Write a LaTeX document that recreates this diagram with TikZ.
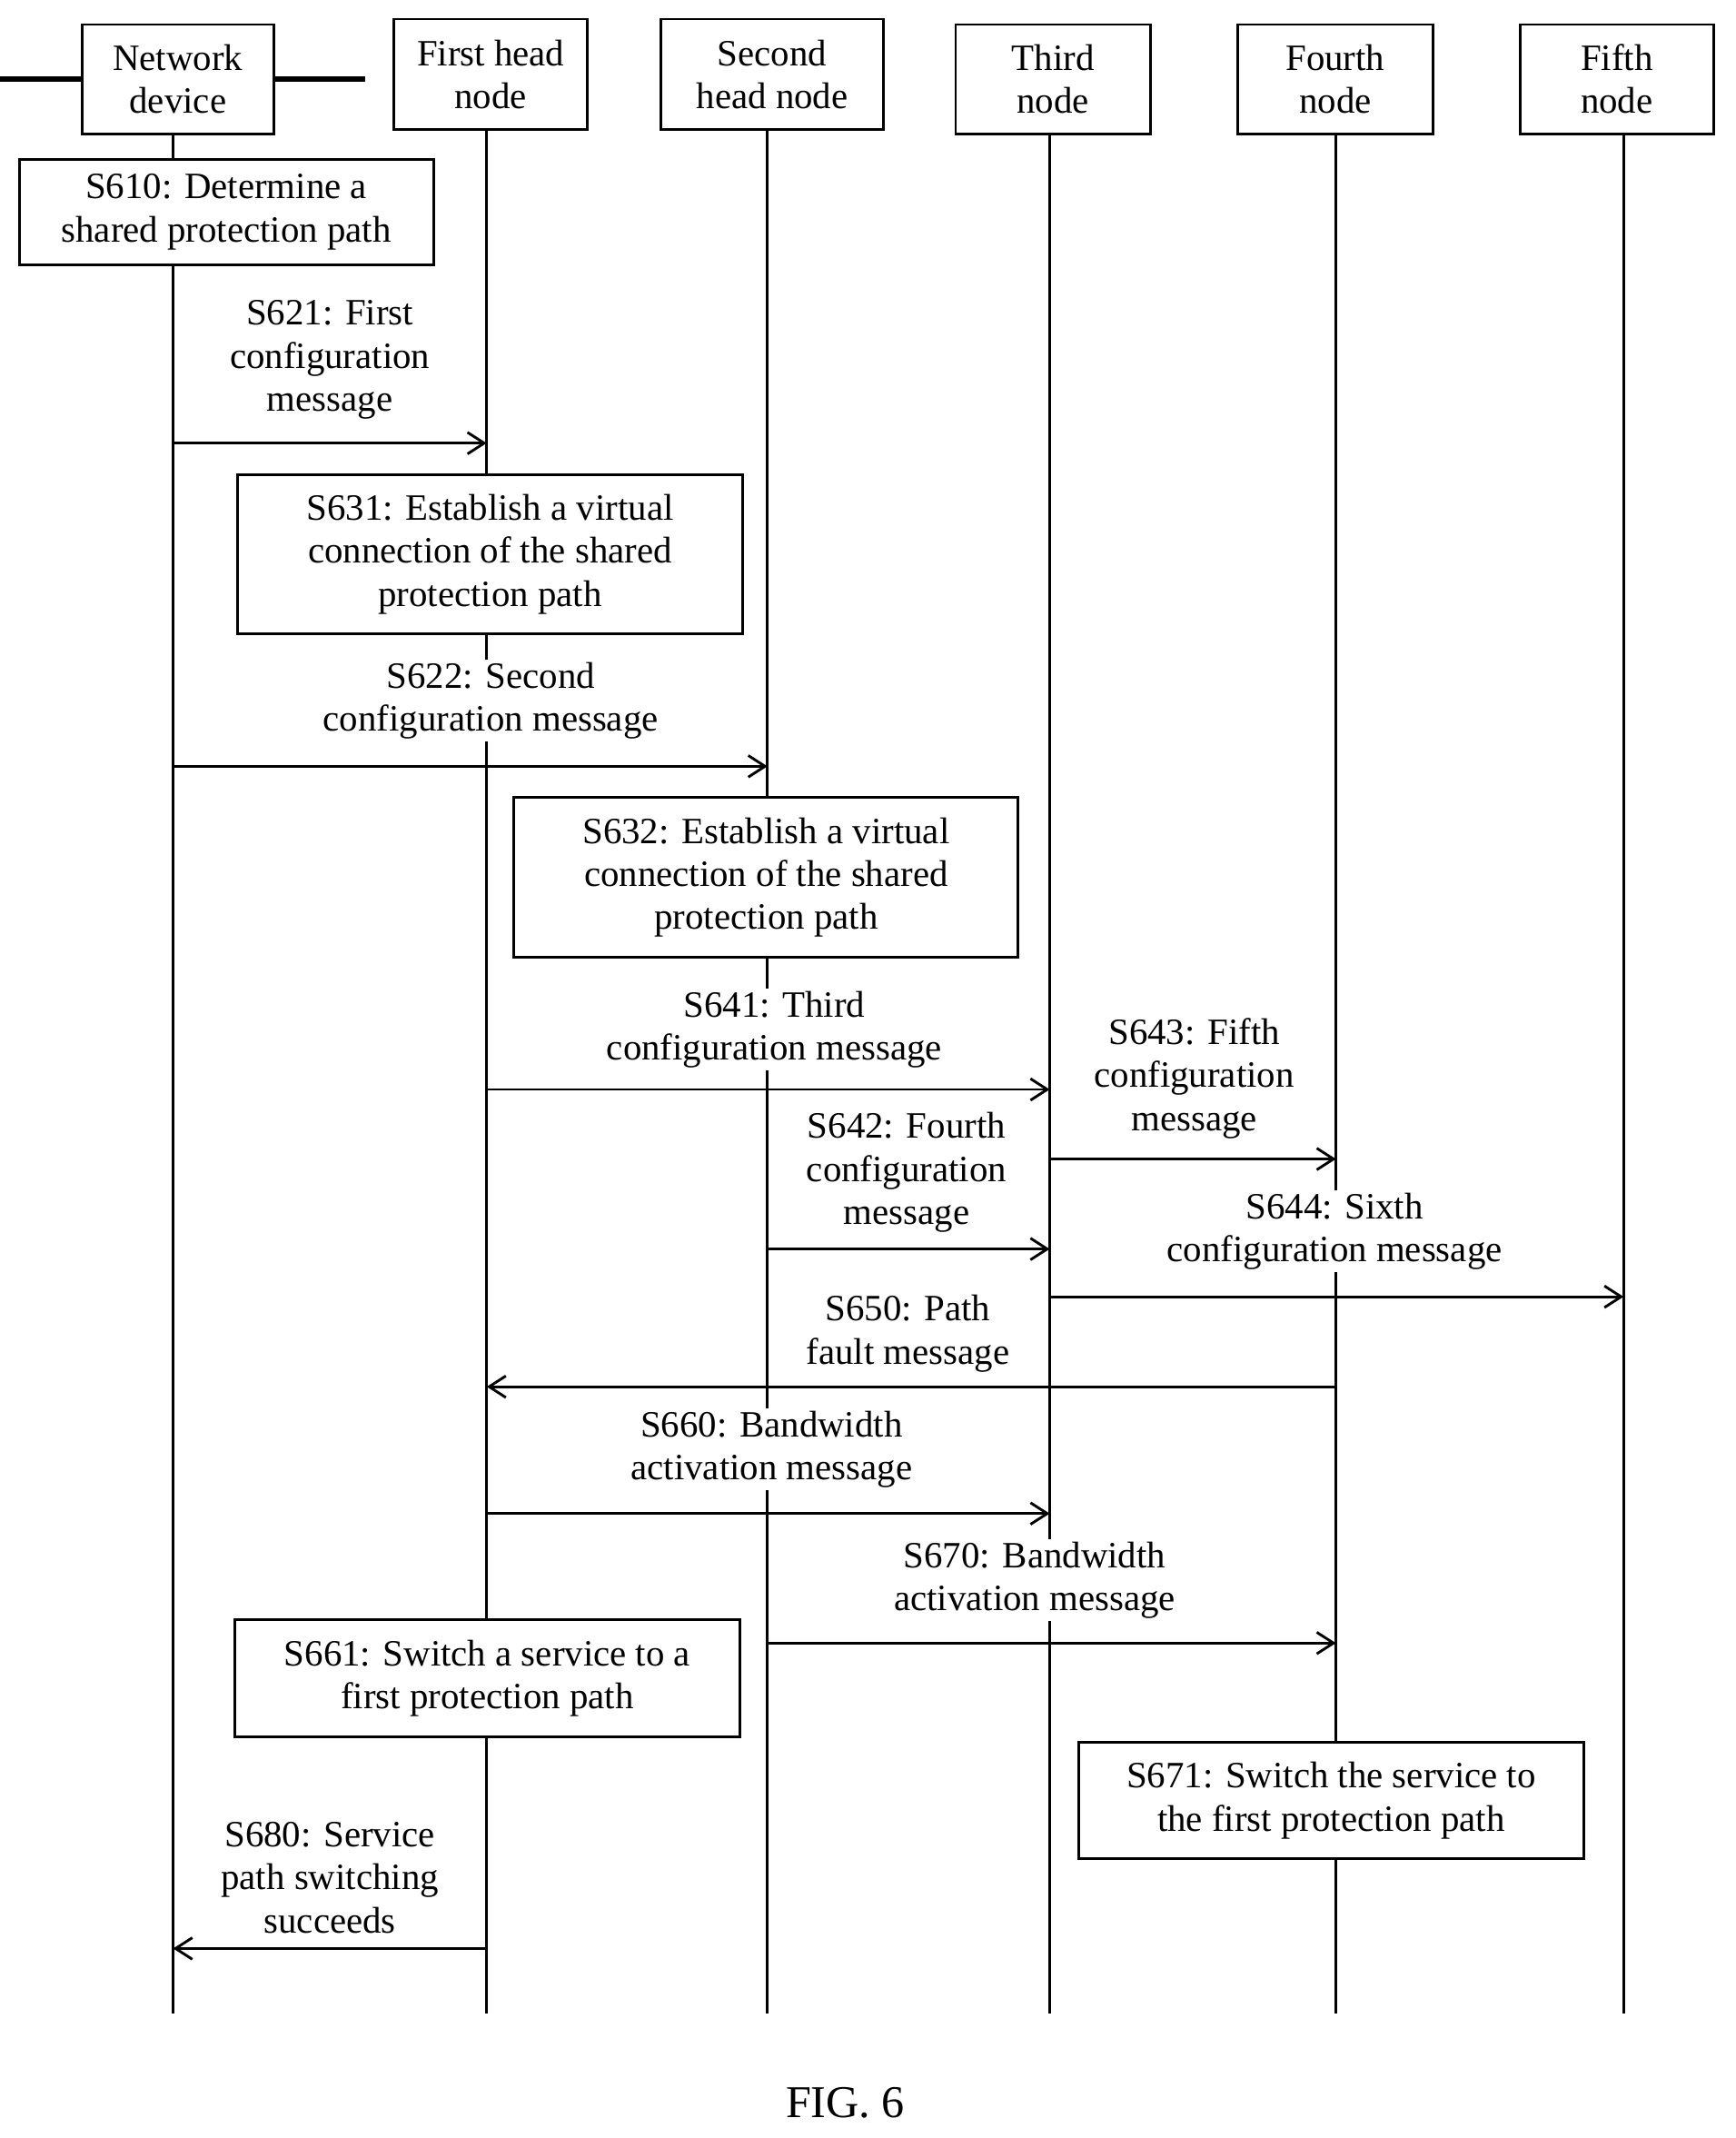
\documentclass[tikz,border=0pt]{standalone}
\usepackage{fontspec}
\setmainfont{Liberation Serif}
\usetikzlibrary{arrows.meta}
\begin{document}
\begin{tikzpicture}[x=0.02cm,y=-0.02cm,
  every node/.style={font=\fontsize{15.5}{18}\selectfont},
  box/.style={draw,line width=1.1pt,fill=white,align=center,inner sep=0pt},
  lbl/.style={fill=white,align=center,inner sep=1pt},
  life/.style={line width=1.1pt},
  msg/.style={line width=1.1pt,-{Straight Barb[length=7pt,width=9pt]}}]
\useasboundingbox (0,0) rectangle (1273,1568);
\foreach \n/\x in {a/127,b/357,c/563,d/770,e/980,f/1191}{
  \coordinate (\n0) at (\x,60);
  \coordinate (\n1) at (\x,1477);
  \draw[life] (\n0) -- (\n1);
}
\node[box,minimum width=141\pgflinewidth] (h1) at (130.5,58) {};
\node[box,minimum width=2.82cm,minimum height=1.6cm] (H1) at (130.5,58) {Network\\device};
\node[box,minimum width=2.84cm,minimum height=1.62cm] (H2) at (360,54.5) {First head\\node};
\node[box,minimum width=3.26cm,minimum height=1.62cm] (H3) at (566.5,54.5) {Second\\head node};
\node[box,minimum width=2.86cm,minimum height=1.6cm] (H4) at (772.5,58) {Third\\node};
\node[box,minimum width=2.86cm,minimum height=1.6cm] (H5) at (979.5,58) {Fourth\\node};
\node[box,minimum width=2.84cm,minimum height=1.6cm] (H6) at (1186,58) {Fifth\\node};
\node[box,minimum width=6.08cm,minimum height=1.54cm] (B610) at (166,155.5) {S610: Determine a\\shared protection path};
\node[box,minimum width=7.42cm,minimum height=2.34cm] (B631) at (359.5,406.5) {S631: Establish a virtual\\connection of the shared\\protection path};
\node[box,minimum width=7.4cm,minimum height=2.34cm] (B632) at (562,643.5) {S632: Establish a virtual\\connection of the shared\\protection path};
\node[box,minimum width=7.42cm,minimum height=1.72cm] (B661) at (357.5,1231) {S661: Switch a service to a\\first protection path};
\node[box,minimum width=7.42cm,minimum height=1.7cm] (B671) at (976.5,1320.5) {S671: Switch the service to\\the first protection path};
\foreach \s/\a/\b/\y in {621/a/b/325,622/a/c/562,641/b/d/799,643/d/e/850,642/c/d/916,644/d/f/951,650/e/b/1017,660/b/d/1110,670/c/e/1205,680/b/a/1429}{
  \coordinate (s\s) at (\a0 |- 0,\y);
  \coordinate (t\s) at (\b0 |- 0,\y);
  \draw[msg] (s\s) -- (t\s);
}
\node[lbl] (L621) at (242,264) {S621: First\\configuration\\message};
\node[lbl] (L622) at (360,514) {S622: Second\\configuration message};
\node[lbl] (L641) at (568,755) {S641: Third\\configuration message};
\node[lbl] (L643) at (876,791) {S643: Fifth\\configuration\\message};
\node[lbl] (L642) at (665,860) {S642: Fourth\\configuration\\message};
\node[lbl] (L644) at (979,903) {S644: Sixth\\configuration message};
\node[lbl] (L650) at (666,978) {S650: Path\\fault message};
\node[lbl] (L660) at (566,1063) {S660: Bandwidth\\activation message};
\node[lbl] (L670) at (759,1159) {S670: Bandwidth\\activation message};
\node[lbl] (L680) at (242,1377) {S680: Service\\path switching\\succeeds};
\node[font=\fontsize{19}{22}\selectfont] (fig) at (620,1542) {FIG. 6};
\end{tikzpicture}
\end{document}
